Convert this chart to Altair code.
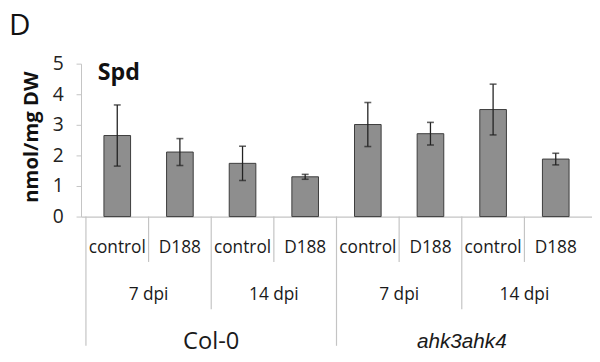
import altair as alt
import pandas as pd

# ---- data ----
genotypes = ["Col-0", "Col-0", "Col-0", "Col-0", "ahk3ahk4", "ahk3ahk4", "ahk3ahk4", "ahk3ahk4"]
dpis = ["7 dpi", "7 dpi", "14 dpi", "14 dpi", "7 dpi", "7 dpi", "14 dpi", "14 dpi"]
treatments = ["control", "D188", "control", "D188", "control", "D188", "control", "D188"]
values = [2.65, 2.11, 1.74, 1.30, 3.01, 2.71, 3.50, 1.88]
errors = [1.00, 0.44, 0.56, 0.08, 0.72, 0.37, 0.83, 0.19]

y_ticks = [0, 1, 2, 3, 4, 5]
y_title = "nmol/mg DW"
panel_letter = "D"
compound = "Spd"

FONT = "Open Sans"
W, H = 518, 155

df = pd.DataFrame({
    "genotype": genotypes,
    "dpi": dpis,
    "treatment": treatments,
    "value": values,
    "err": errors,
})
df["idx"] = range(len(df))
df["pos"] = df["idx"] + 0.5
df["lo"] = df["value"] - df["err"]
df["hi"] = df["value"] + df["err"]
df["grp"] = df["genotype"] + "|" + df["dpi"]

dpi_df = df.groupby("grp", sort=False).agg(pos=("pos", "mean"), dpi=("dpi", "first")).reset_index()
geno_df = df.groupby("genotype", sort=False).agg(pos=("pos", "mean")).reset_index()

# boundary lines between categories
bounds = []
for i in range(len(df)):
    if i == 0 or genotypes[i] != genotypes[i - 1]:
        lvl = "genotype"
    elif dpis[i] != dpis[i - 1]:
        lvl = "dpi"
    else:
        lvl = "treatment"
    bounds.append({"b": i, "level": lvl})
bounds_df = pd.DataFrame(bounds)

xscale = alt.Scale(domain=[0, len(df)], nice=False, zero=False)
yscale = alt.Scale(domain=[0, 5], nice=False)

x_axis = alt.Axis(labels=False, ticks=False, grid=False, title=None,
                  domainColor="#c4c4c4", domainWidth=1.2)
y_axis = alt.Axis(values=y_ticks, tickCount=6, grid=False, title=y_title,
                  labelOverlap=False, labelBound=False,
                  domainColor="#c4c4c4", tickColor="#c4c4c4", tickSize=5,
                  labelFont=FONT, labelFontSize=19.5, labelColor="#222222",
                  labelPadding=13,
                  titleFont=FONT, titleFontSize=20.5, titleFontWeight="bold",
                  titleColor="#111111", titleAngle=-90, titleX=-50, titleY=74,
                  titleAlign="center", titleBaseline="middle")

base = alt.Chart(df)

bars = base.mark_bar(width=27, color="#8e8e8e", stroke="#3c3c3c", strokeWidth=1).encode(
    x=alt.X("pos:Q", scale=xscale, axis=x_axis),
    y=alt.Y("value:Q", scale=yscale, axis=y_axis),
)

err_rule = base.mark_rule(color="#222222", strokeWidth=1.3).encode(
    x=alt.X("pos:Q", scale=xscale, axis=x_axis),
    y=alt.Y("lo:Q", scale=yscale, axis=y_axis), y2="hi:Q"
)
cap_hi = base.mark_tick(orient="horizontal", size=7, thickness=1.6, color="#222222").encode(
    x=alt.X("pos:Q", scale=xscale, axis=x_axis), y=alt.Y("hi:Q", scale=yscale, axis=y_axis)
)
cap_lo = base.mark_tick(orient="horizontal", size=7, thickness=1.6, color="#222222").encode(
    x=alt.X("pos:Q", scale=xscale, axis=x_axis), y=alt.Y("lo:Q", scale=yscale, axis=y_axis)
)

tr_text = base.mark_text(font=FONT, fontSize=17.5, color="#1a1a1a", baseline="middle").encode(
    x=alt.X("pos:Q", scale=xscale, axis=x_axis), y=alt.value(187), text="treatment:N"
)
dpi_text = alt.Chart(dpi_df).mark_text(font=FONT, fontSize=17.5, color="#1a1a1a",
                                       baseline="middle").encode(
    x=alt.X("pos:Q", scale=xscale, axis=x_axis), y=alt.value(235), text="dpi:N"
)
geno_norm = alt.Chart(geno_df).transform_filter(alt.datum.genotype == "Col-0").mark_text(
    font=FONT, fontSize=24, color="#1a1a1a", baseline="middle").encode(
    x=alt.X("pos:Q", scale=xscale, axis=x_axis), y=alt.value(282), text="genotype:N"
)
geno_ital = alt.Chart(geno_df).transform_filter(alt.datum.genotype != "Col-0").mark_text(
    font="Liberation Sans", fontSize=21, fontStyle="italic", color="#1a1a1a",
    baseline="middle").encode(
    x=alt.X("pos:Q", scale=xscale, axis=x_axis), y=alt.value(282), text="genotype:N"
)

def bound_layer(level, y2):
    return alt.Chart(bounds_df).transform_filter(alt.datum.level == level).mark_rule(
        color="#c4c4c4", strokeWidth=1.2).encode(
        x=alt.X("b:Q", scale=xscale, axis=x_axis), y=alt.value(H), y2=alt.value(y2)
    )

b1 = bound_layer("treatment", 201)
b2 = bound_layer("dpi", 249)
b3 = bound_layer("genotype", 286)

spd = alt.Chart(pd.DataFrame({"t": [compound]})).mark_text(
    font=FONT, fontSize=23.5, fontWeight="bold", color="#111111", align="left", baseline="alphabetic"
).encode(x=alt.value(17), y=alt.value(17), text="t:N")

letter = alt.Chart(pd.DataFrame({"t": [panel_letter]})).mark_text(
    font=FONT, fontSize=30, color="#111111", align="left", baseline="top"
).encode(x=alt.value(-73), y=alt.value(-53), text="t:N")

chart = alt.layer(
    b1, b2, b3, bars, err_rule, cap_hi, cap_lo, tr_text, dpi_text, geno_norm, geno_ital, spd, letter
).properties(
    width=W, height=H,
    padding={"left": 74, "top": 54, "right": 0, "bottom": 145},
    autosize=alt.AutoSizeParams(type="none"),
).configure_view(stroke=None)

chart.save("out.html", embed_options={"renderer": "svg", "actions": False})
